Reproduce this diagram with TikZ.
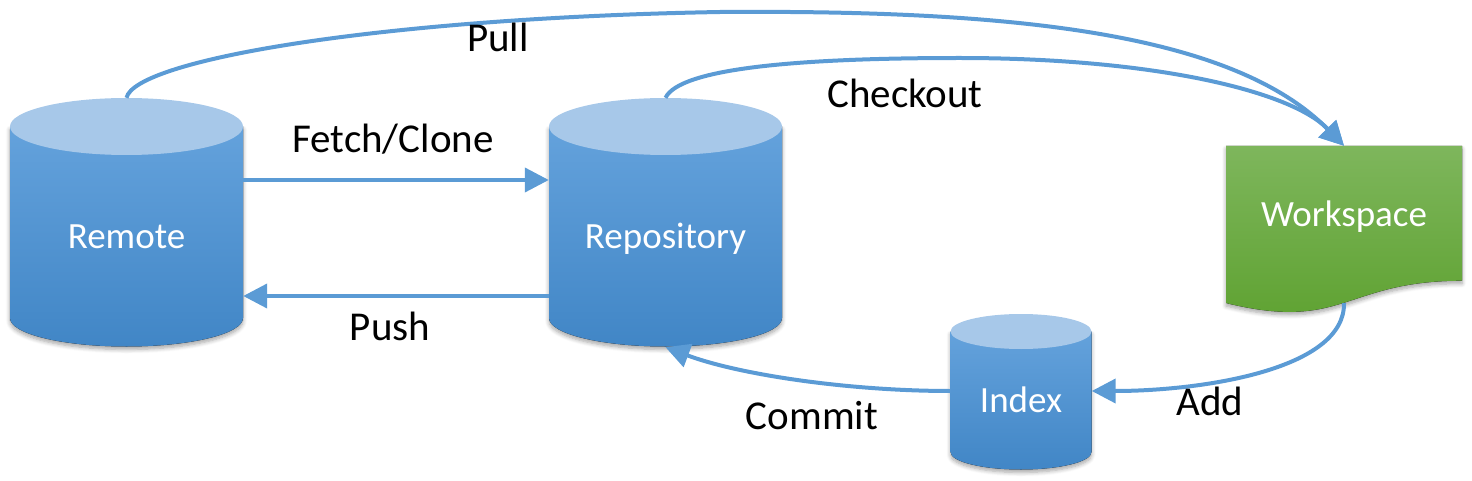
\documentclass[tikz,border=0pt]{standalone}
\usepackage{fontspec}
\setmainfont{Carlito}
\usetikzlibrary{arrows.meta,calc,shadows.blur}
\definecolor{arrowblue}{HTML}{5B9BD5}
\definecolor{captop}{HTML}{A7C8E9}
\definecolor{bodytop}{HTML}{64A2DC}
\definecolor{bodybot}{HTML}{4186C6}
\definecolor{greentop}{HTML}{7EB65C}
\definecolor{greenbot}{HTML}{5DA12F}
\tikzset{
  bodyshade/.style={top color=bodytop,bottom color=bodybot},
  softshadow/.style={blur shadow={shadow xshift=0pt,shadow yshift=-3pt,shadow blur steps=6,shadow blur radius=4pt,shadow opacity=35}},
  shapebox/.style={rectangle,draw=none,inner sep=0pt},
  arr/.style={draw=arrowblue,line width=4pt,-{Triangle[length=24pt,width=24pt]}},
  lbl/.style={font=\fontsize{41}{49}\selectfont,anchor=base,inner sep=0pt},
  wlbl/.style={font=\fontsize{37}{44}\selectfont,text=white,anchor=base,inner sep=0pt}
}
\newcommand\drawcyl[5]{%
  \fill[bodyshade,softshadow] (#1-#4,#2) -- (#1-#4,#3) arc[start angle=180,end angle=0,x radius=#4,y radius=#5] -- (#1+#4,#2) -- cycle;
  \fill[captop] (#1,#2) ellipse[x radius=#4,y radius=#5];
}
\begin{document}
\begin{tikzpicture}[x=1pt,y=-1pt]
\useasboundingbox (0,0) rectangle (1472,481);
% shapes
\drawcyl{126.5}{126.5}{318}{116.5}{28.5}
\drawcyl{665.5}{126.5}{318}{116.5}{28.5}
\drawcyl{1021}{331.5}{452}{70.5}{17.5}
\fill[top color=greentop,bottom color=greenbot,softshadow] (1226,146) -- (1462,146) -- (1462,280.7)
  .. controls (1344,280.7) and (1344,332) .. (1226,303) -- cycle;
% named boxes for connectors
\node[shapebox,minimum width=233pt,minimum height=249pt] (remote) at (126.5,222.5) {};
\node[shapebox,minimum width=233pt,minimum height=249pt] (repo) at (665.5,222.5) {};
\node[shapebox,minimum width=141pt,minimum height=154pt] (index) at (1021,391) {};
\node[shapebox,minimum width=236pt,minimum height=157pt] (work) at (1344,224.5) {};
% shape labels
\node[wlbl] (remotel) at (126.5,248) {Remote};
\node[wlbl] (repol) at (665.5,248) {Repository};
\node[wlbl] (indexl) at (1021,412) {Index};
\node[wlbl] (workl) at (1344,226) {Workspace};
% connectors
\draw[arr] (remote.east |- 0,180) -- (repo.west |- 0,180);
\draw[arr] (repo.west |- 0,296) -- (remote.east |- 0,296);
\draw[arr] (remote.north) .. controls (135,60) and (380,18) .. (720,12)
  .. controls (1000,10) and (1230,30) .. (work.north);
\draw[arr] (repo.north) .. controls (680,68) and (800,58) .. (960,58)
  .. controls (1150,58) and (1290,90) .. (work.north);
\draw[arr] (work.south) .. controls (1345,370) and (1200,391) .. (index.east);
\draw[arr] (index.west) .. controls (850,391) and (740,375) .. (repo.south);
% connector labels
\node[lbl] (pull) at (498,52) {Pull};
\node[lbl] (checkout) at (905,108) {Checkout};
\node[lbl] (fetch) at (393,153) {Fetch/Clone};
\node[lbl] (push) at (390,340) {Push};
\node[lbl] (commit) at (812,429) {Commit};
\node[lbl] (add) at (1210,415) {Add};
\end{tikzpicture}
\end{document}
